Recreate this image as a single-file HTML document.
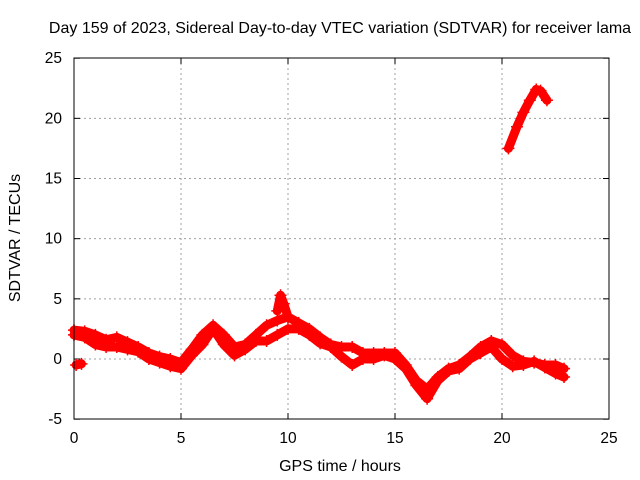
<!DOCTYPE html>
<html><head><meta charset="utf-8"><style>
body{margin:0;background:#fff;}
svg{display:block;font-family:"Liberation Sans",sans-serif;}
</style></head><body>
<svg id="chart" width="640" height="480">
<text x="340" y="33" text-anchor="middle" font-size="16">Day 159 of 2023, Sidereal Day-to-day VTEC variation (SDTVAR) for receiver lama</text>
<text x="340" y="471" text-anchor="middle" font-size="16">GPS time / hours</text>
<text transform="translate(20,238) rotate(-90)" text-anchor="middle" font-size="16">SDTVAR / TECUs</text>
<g id="grid"></g><g id="ticks"></g><g id="data"></g>
<rect x="74" y="58" width="535" height="361" fill="none" stroke="#000" stroke-width="1"/>
</svg>
<script>
const xTicks=[0,5,10,15,20,25];
const yTicks=[-5,0,5,10,15,20,25];
const hoursA=[0,0.5,1,1.5,2,2.5,3,3.5,4,4.5,5,5.5,6,6.5,7,7.5,8,8.5,9,9.5,10,10.5,11,11.5,12,12.5,13,13.5,14,14.5,15,15.5,16,16.5,17,17.5,18,18.5,19,19.5,20,20.5,21,21.5,22,22.5,22.9];
const valuesA=[2.4,2.3,2.0,1.6,1.8,1.4,1.0,0.5,0.2,0,-0.3,0.8,2.0,2.8,2.0,1.0,1.2,2.0,2.8,3.2,3.5,3.0,2.5,1.8,1.2,1.0,1.0,0.5,0.5,0.5,0.5,-0.5,-1.8,-2.5,-1.5,-0.8,-0.5,0.2,1.0,1.5,1.2,0.3,-0.2,-0.3,-0.5,-0.5,-0.8];
const valuesB=[2.0,1.8,1.2,1.0,1.0,0.8,0.6,0,-0.3,-0.6,-0.8,0.3,1.2,2.5,1.2,0.3,0.8,1.5,1.5,2.0,2.5,2.5,2.0,1.3,1.0,0.2,-0.5,0,0,0.3,0,-0.8,-2.2,-3.3,-1.8,-1.0,-0.8,0,0.5,1.0,0,-0.6,-0.5,-0.2,-0.7,-1.2,-1.5];
const hoursC=[20.3,20.7,21,21.3,21.6,21.8,22.1];
const valuesC=[17.5,19.3,20.5,21.5,22.4,22.3,21.5];
const hoursD=[9.5,9.65,9.8,10];
const valuesD=[4.0,5.3,4.6,3.5];
const hoursE=[0.1,0.35];
const valuesE=[-0.5,-0.4];
const X=h=>74+h*535/25, Y=v=>359-v*361/30;
const NS="http://www.w3.org/2000/svg";
const grid=document.getElementById('grid'),ticks=document.getElementById('ticks'),data=document.getElementById('data');
function mk(t,a,p){const e=document.createElementNS(NS,t);for(const k in a)e.setAttribute(k,a[k]);p.appendChild(e);return e;}
xTicks.forEach(t=>{const x=X(t);
 if(t>0&&t<25){const g=mk('line',{x1:x,x2:x,y1:58,y2:419,stroke:'#a0a0a0','stroke-dasharray':'2,3'},grid);
 
 }
 mk('line',{x1:x,x2:x,y1:419,y2:413,stroke:'#000'},ticks);mk('line',{x1:x,x2:x,y1:58,y2:64,stroke:'#000'},ticks);
 const l=mk('text',{x:x,y:443,'text-anchor':'middle','font-size':'15.5'},ticks);l.textContent=t;
 
 });
yTicks.forEach(t=>{const y=Y(t);
 if(t>-5&&t<25){const g=mk('line',{x1:74,x2:609,y1:y,y2:y,stroke:'#a0a0a0','stroke-dasharray':'2,3'},grid);
 
 }
 mk('line',{x1:74,x2:80,y1:y,y2:y,stroke:'#000'},ticks);mk('line',{x1:609,x2:603,y1:y,y2:y,stroke:'#000'},ticks);
 const l=mk('text',{x:62,y:y+5,'text-anchor':'end','font-size':'15.5'},ticks);l.textContent=t;
 
 });
function series(hs,vs,name){
 const g=mk('g',{},data);
 
 
 mk('polyline',{points:hs.map((h,i)=>X(h)+','+Y(vs[i])).join(' '),fill:'none',stroke:'#f00','stroke-width':9,'stroke-linejoin':'round','stroke-linecap':'round'},g);
 hs.forEach((h,i)=>{const x=X(h),y=Y(vs[i]);
  mk('path',{d:`M${x-6},${y}h12M${x},${y-6}v12`,stroke:'#f00','stroke-width':1.5},g);});
}
series(hoursA,valuesA,'sdtvar-upper-band');
series(hoursA,valuesB,'sdtvar-lower-band');
series(hoursC,valuesC,'sdtvar-late-spike');
series(hoursD,valuesD,'sdtvar-peak-10h');
series(hoursE,valuesE,'sdtvar-start-outlier');
</script>
</body></html>
